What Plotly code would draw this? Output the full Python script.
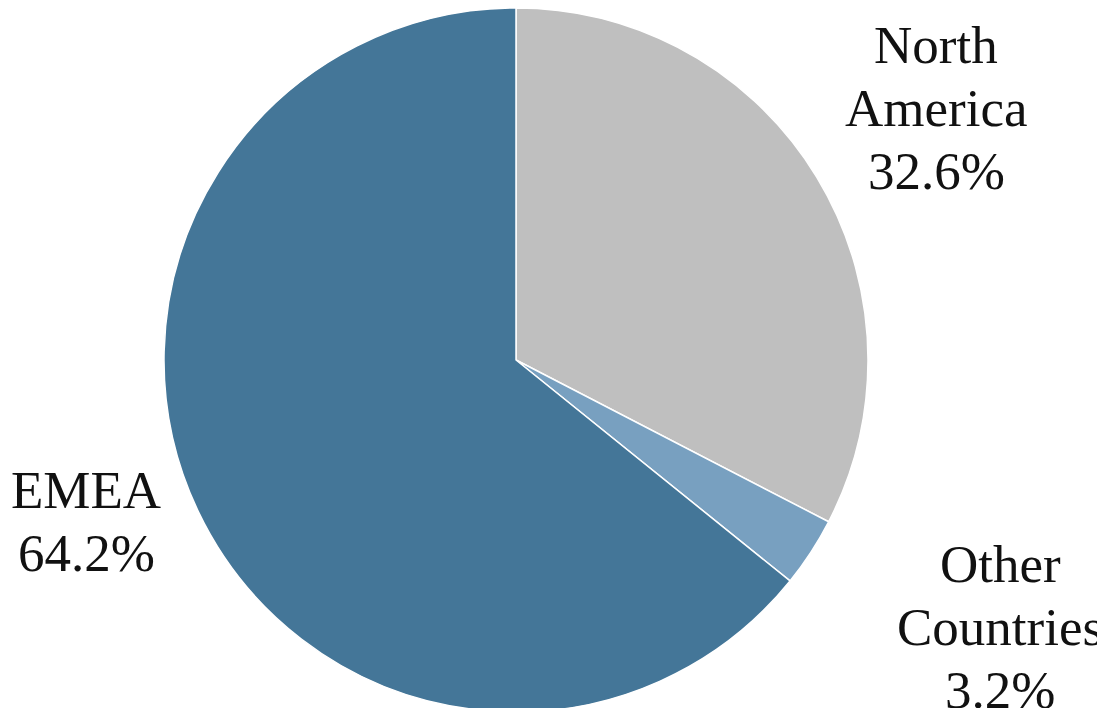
import plotly.graph_objects as go

regions = ["North America", "Other Countries", "EMEA"]
shares = [32.6, 3.2, 64.2]
colors = ["#bfbfbf", "#78a0c0", "#447698"]
label_lines = {
    "North America": ["North", "America"],
    "Other Countries": ["Other", "Countries"],
    "EMEA": ["EMEA"],
}

W, H = 1105, 708
OFF = 8  # page body margin offset
# label block: centre x and first-line centre y in page pixels, line step
label_pos = {
    "North America": (936, 45),
    "Other Countries": (1000, 564),
    "EMEA": (86, 490),
}
STEP = 63
R = 352
CX, CY = 516 - OFF, R  # figure pixels (pie touches top of plot area)

fig = go.Figure(go.Pie(
    labels=regions, values=shares, sort=False, direction="clockwise", rotation=0,
    marker=dict(colors=colors, line=dict(color="white", width=1.5)),
    textinfo="none", hoverinfo="label+percent", showlegend=False,
    domain=dict(x=[(CX - R) / W, (CX + R) / W], y=[1 - 2 * R / H, 1]),
))

for r, v in zip(regions, shares):
    px, py = label_pos[r]
    lines = label_lines[r] + [f"{v:.1f}%"]
    for i, line in enumerate(lines):
        fx = px - OFF
        fy = py + i * STEP - OFF
        fig.add_annotation(x=fx / W, y=1 - fy / H, xref="paper", yref="paper",
                           text=line, showarrow=False, xanchor="center", yanchor="middle",
                           font=dict(family="Liberation Serif", size=53, color="#111111"))

fig.update_layout(width=W, height=H, margin=dict(l=0, r=0, t=0, b=0),
                  paper_bgcolor="white", plot_bgcolor="white")
fig.write_html("out.html")
